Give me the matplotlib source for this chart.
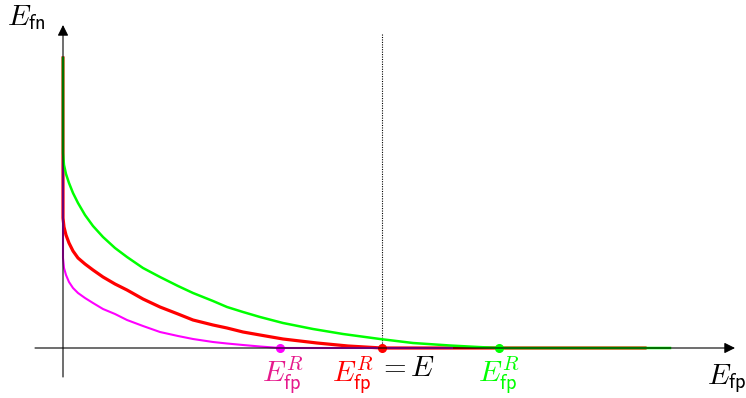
import numpy as np
import matplotlib.pyplot as plt

plt.rcParams['mathtext.fontset'] = 'cm'

# curves (E_fp, E_fn), origin at the axes crossing
green_x = [0, 0, 1, 3, 6, 10, 15, 22, 30, 40, 52, 64, 80, 97, 115, 130, 150, 164,
           180, 197, 220, 250, 280, 317, 350, 387, 415, 436, 607]
green_y = [290, 195, 183, 174, 165, 155, 145, 133, 122, 111, 100, 91, 80, 71, 62, 55,
           47, 41, 36, 31, 25, 19, 14, 9, 5, 2.5, 1, 0, 0]

red_x = [0, 0, 1, 3, 6, 10, 15, 22, 30, 40, 52, 64, 80, 97, 115, 130, 150, 164,
         180, 197, 220, 254, 285, 319, 582]
red_y = [290, 130, 121, 113, 105, 97, 90, 84, 78, 71, 64, 58, 49, 41, 34, 28, 23, 20,
         16, 13, 9, 5, 2, 0, 0]

mag_x = [0, 0, 1, 3, 6, 10, 15, 22, 30, 40, 52, 64, 80, 97, 115, 130, 150, 164,
         180, 197, 217, 389]
mag_y = [290, 90, 80, 73, 66, 60, 55, 50, 45, 39, 34, 28, 22, 16, 12, 9, 6, 4.5,
         3, 1.5, 0, 0]

# roots E_fp^R of each curve
root_mag = 217
root_red = 319
root_green = 436

fig = plt.figure(figsize=(7.46, 3.98), dpi=100)
ax = fig.add_axes([0, 0, 1, 1])
ax.set_xlim(-63, 683)
ax.set_ylim(-50, 348)
ax.axis('off')

arrow = dict(arrowstyle='-|>', color='black', lw=0.8, mutation_scale=16,
             shrinkA=0, shrinkB=0)
ax.annotate('', xy=(672, 0), xytext=(-28, 0), arrowprops=arrow)
ax.annotate('', xy=(0, 323), xytext=(0, -29), arrowprops=arrow)

ax.plot([root_red, root_red], [0, 315], color='black', lw=0.8, ls=(0, (1, 1.2)))

ax.plot(red_x, red_y, color='#ff0000', lw=2.3, solid_joinstyle='round')
ax.plot(mag_x, mag_y, color='#ff00ff', lw=1.5, solid_joinstyle='round')
ax.plot(green_x, green_y, color='#00ff00', lw=1.8, solid_joinstyle='round')

ax.plot([root_mag], [0], 'o', color='#ff00ff', ms=5.5)
ax.plot([root_red], [0], 'o', color='#ff0000', ms=5.5)
ax.plot([root_green], [0], 'o', color='#00ff00', ms=5.5)

fs = 21
ax.text(root_mag + 3, -6, r'$E^R_{\mathsf{fp}}$', color='#e6198c', fontsize=fs,
        ha='center', va='top')
ax.text(root_red - 29, -6, r'$E^R_{\mathsf{fp}}$', color='#ff0000', fontsize=fs,
        ha='center', va='top')
ax.text(root_red - 4, -6, r'$= E$', color='black', fontsize=fs,
        ha='left', va='top')
ax.text(root_green, -6, r'$E^R_{\mathsf{fp}}$', color='#00ff00', fontsize=fs,
        ha='center', va='top')

ax.text(-56, 345, r'$E_{\mathsf{fn}}$', fontsize=fs, ha='left', va='top')
ax.text(684, -14, r'$E_{\mathsf{fp}}$', fontsize=fs, ha='right', va='top')

fig.savefig('out.png', dpi=100)
